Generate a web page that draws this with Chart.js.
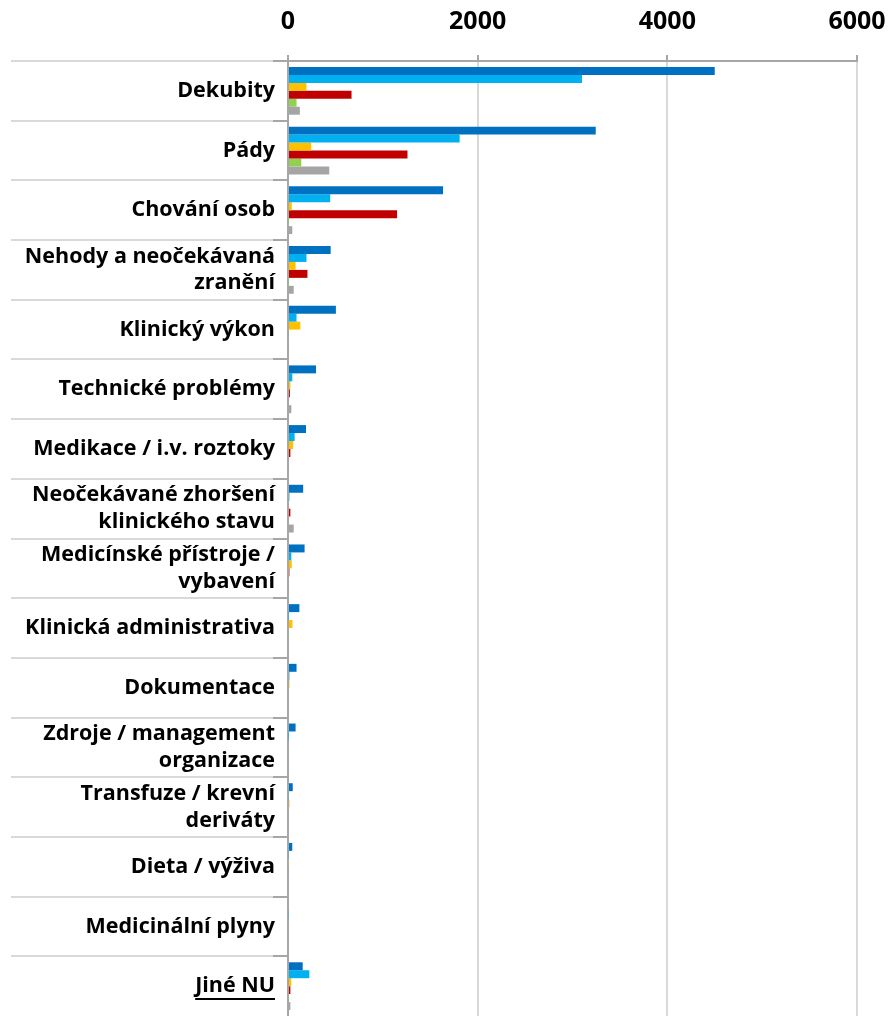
<!DOCTYPE html>
<html>
<head>
<meta charset="utf-8">
<script src="https://cdn.jsdelivr.net/npm/chart.js@4"></script>
<style>
  html, body { margin: 0; padding: 0; background: #fff; }
  #wrap { width: 889px; height: 1016px; }
</style>
</head>
<body>
<div id="wrap"><canvas id="nuChart" width="889" height="1016"></canvas></div>
<script>
// kategorie nezádoucích událostí
const categories = [
    'Dekubity', 'Pády', 'Chování osob', ['Nehody a neočekávaná', 'zranění'],
    'Klinický výkon', 'Technické problémy', 'Medikace / i.v. roztoky',
    ['Neočekávané zhoršení', 'klinického stavu'], ['Medicínské přístroje /', 'vybavení'],
    'Klinická administrativa', 'Dokumentace', ['Zdroje / management', 'organizace'],
    ['Transfuze / krevní', 'deriváty'], 'Dieta / výživa', 'Medicinální plyny', 'Jiné NU'
];
const xTicks = [0, 2000, 4000, 6000];

// hodnoty řad
const series1 = [4500, 3245, 1635, 450, 505, 295, 190, 160, 175, 120, 90, 80, 50, 45, 0, 155];
const series2 = [3100, 1810, 445, 195, 90, 45, 70, 15, 35, 5, 15, 5, 8, 8, 8, 225];
const series3 = [195, 245, 40, 80, 130, 25, 55, 10, 40, 47, 15, 0, 15, 8, 0, 35];
const series4 = [670, 1260, 1150, 205, 0, 20, 25, 25, 15, 0, 0, 0, 0, 0, 0, 25];
const series5 = [90, 140, 5, 5, 0, 0, 0, 0, 0, 0, 0, 0, 0, 0, 0, 8];
const series6 = [125, 435, 45, 60, 8, 35, 8, 60, 10, 5, 0, 0, 0, 5, 0, 25];

const LABEL_FONT = '"Open Sans", sans-serif';
const LABEL_SIZE = 21.5;

// oddělovače kategorií vlevo + podtržení "Jiné NU"
const separators = {
    id: 'separators',
    afterDraw(chart) {
        const ctx = chart.ctx;
        const y = chart.scales.y;
        const step = y.getPixelForValue(1) - y.getPixelForValue(0);
        ctx.save();
        for (let i = 0; i < categories.length; i++) {
            const py = Math.round(y.getPixelForValue(i) - step / 2);
            ctx.strokeStyle = '#d9d9d9';
            ctx.lineWidth = 2;
            ctx.beginPath();
            ctx.moveTo(11, py);
            ctx.lineTo(y.right - 15, py);
            ctx.stroke();
            ctx.strokeStyle = '#a6a6a6';
            ctx.beginPath();
            ctx.moveTo(y.right - 15, py);
            ctx.lineTo(y.right, py);
            ctx.stroke();
        }
        // podtržení posledního popisku
        const last = categories.length - 1;
        ctx.font = 'bold ' + LABEL_SIZE + 'px ' + LABEL_FONT;
        const w = ctx.measureText(categories[last]).width;
        const rx = y.right - 13;
        const ly = Math.round(y.getPixelForValue(last)) + 13;
        ctx.strokeStyle = '#000';
        ctx.lineWidth = 2;
        ctx.beginPath();
        ctx.moveTo(rx - w, ly);
        ctx.lineTo(rx, ly);
        ctx.stroke();
        ctx.restore();
    }
};

document.addEventListener('DOMContentLoaded', function () {
    const ctx = document.getElementById('nuChart').getContext('2d');
    const colors = ['#0070C0', '#00B0F0', '#FFC000', '#C00000', '#92D050', '#A5A5A5'];
    const seriesData = [series1, series2, series3, series4, series5, series6];

    new Chart(ctx, {
        type: 'bar',
        data: {
            labels: categories,
            datasets: seriesData.map((d, i) => ({
                label: 'Řada ' + (i + 1),
                data: d,
                backgroundColor: colors[i],
                borderWidth: 0,
                categoryPercentage: 0.8,
                barPercentage: 1.0
            }))
        },
        options: {
            indexAxis: 'y',
            responsive: false,
            animation: false,
            layout: { padding: { left: 0, right: 32, top: 0, bottom: 0 } },
            plugins: {
                legend: { display: false },
                tooltip: { enabled: false }
            },
            scales: {
                x: {
                    position: 'top',
                    min: 0,
                    max: 6000,
                    afterBuildTicks: function (scale) {
                        scale.ticks = xTicks.map(v => ({ value: v }));
                    },
                    afterFit: function (scale) {
                        scale.height = 61;
                        scale.paddingLeft = 0;
                        scale.paddingRight = 0;
                    },
                    grid: {
                        color: '#d9d9d9',
                        lineWidth: 2,
                        tickColor: '#a6a6a6',
                        tickLength: 6
                    },
                    border: { color: '#a6a6a6', width: 2 },
                    ticks: {
                        color: '#000',
                        padding: 18,
                        maxRotation: 0,
                        callback: function (v) { return String(v); },
                        font: { family: LABEL_FONT, size: 25, weight: 'bold' }
                    }
                },
                y: {
                    afterFit: function (scale) {
                        scale.width = 288;
                        scale.paddingTop = 0;
                        scale.paddingBottom = 0;
                    },
                    grid: { display: false, drawTicks: false },
                    border: { color: '#a6a6a6', width: 2 },
                    ticks: {
                        color: '#000',
                        padding: 13,
                        autoSkip: false,
                        font: { family: LABEL_FONT, size: LABEL_SIZE, weight: 'bold', lineHeight: 1.25 }
                    }
                }
            }
        },
        plugins: [separators]
    });
});
</script>
</body>
</html>
